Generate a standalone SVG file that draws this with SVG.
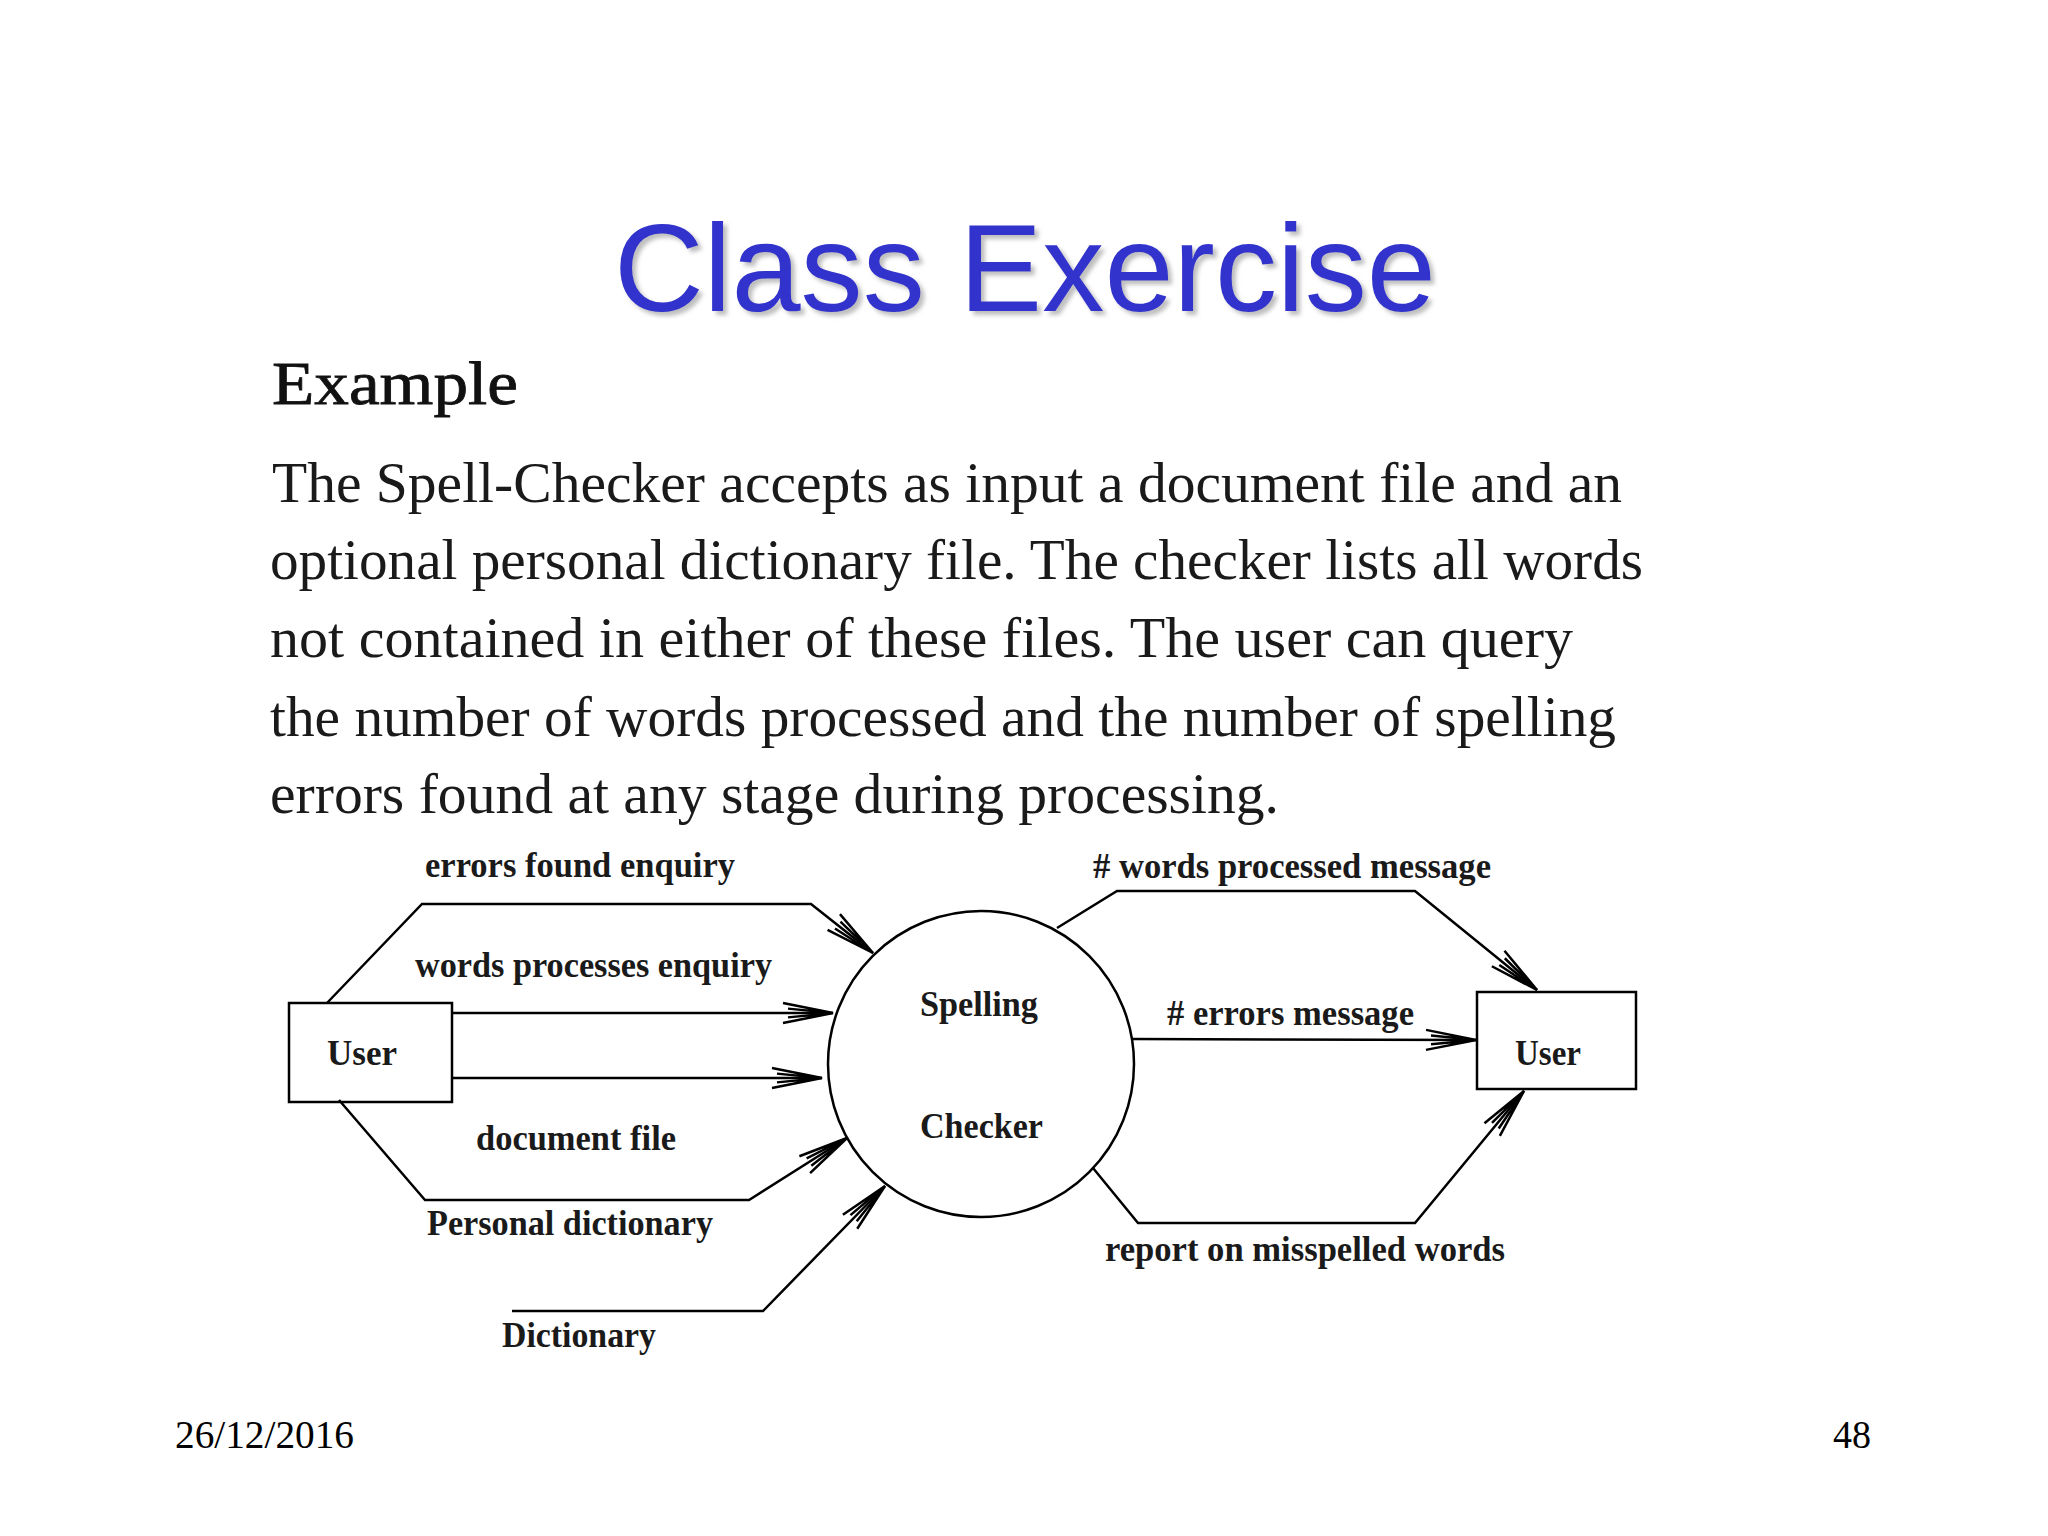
<svg xmlns="http://www.w3.org/2000/svg" width="2048" height="1536" viewBox="0 0 2048 1536">
  <style>
    .title { font-family: "Liberation Sans", Arial, sans-serif; font-size: 125px; fill: #3333CC; }
    .body { font-family: "Liberation Serif", "Times New Roman", serif; font-size: 56px; fill: #1a1a1a; }
    .heading { font-family: "Liberation Serif", "Times New Roman", serif; font-size: 62px; font-weight: normal; fill: #111111; stroke: #111111; stroke-width: 0.8; }
    .lbl { font-family: "Liberation Serif", "Times New Roman", serif; font-size: 35px; font-weight: bold; fill: #1a1a1a; }
    .foot { font-family: "Liberation Serif", "Times New Roman", serif; font-size: 40px; fill: #000; }
    .box { fill: none; stroke: #000; stroke-width: 2.5; }
    .edge { fill: none; stroke: #000; stroke-width: 2.5; stroke-linejoin: miter; }
  </style>
  <defs>
    <marker id="arrow" markerUnits="userSpaceOnUse" markerWidth="60" markerHeight="30" refX="0" refY="0" viewBox="-44 -12 48 24" orient="auto" overflow="visible">
      <path d="M-40,-8 L0,0 L-40,8 M-36,-3.5 L0,0 L-36,3.5" fill="none" stroke="#000" stroke-width="2"/>
    </marker>
    <filter id="shadow" x="-10%" y="-20%" width="120%" height="150%">
      <feDropShadow dx="4" dy="4" stdDeviation="2" flood-color="#888888" flood-opacity="0.55"/>
    </filter>
  </defs>

  <rect x="0" y="0" width="2048" height="1536" fill="#ffffff"/>

  <g id="title">
    <text class="title" x="614" y="311" textLength="822" lengthAdjust="spacingAndGlyphs" filter="url(#shadow)">Class Exercise</text>
  </g>

  <g id="description">
    <text class="heading" x="272" y="404" textLength="246" lengthAdjust="spacingAndGlyphs">Example</text>
    <text class="body" x="272" y="502" textLength="1350" lengthAdjust="spacingAndGlyphs">The Spell-Checker accepts as input a document file and an</text>
    <text class="body" x="270" y="579" textLength="1373" lengthAdjust="spacingAndGlyphs">optional personal dictionary file. The checker lists all words</text>
    <text class="body" x="270" y="657" textLength="1303" lengthAdjust="spacingAndGlyphs">not contained in either of these files. The user can query</text>
    <text class="body" x="270" y="736" textLength="1346" lengthAdjust="spacingAndGlyphs">the number of words processed and the number of spelling</text>
    <text class="body" x="270" y="813" textLength="1009" lengthAdjust="spacingAndGlyphs">errors found at any stage during processing.</text>
  </g>

  <g id="connectors">
    <g id="edge-errors-found-enquiry">
      <polyline class="edge" points="327,1003 422,904 811,904 873,953" marker-end="url(#arrow)"/>
      <text class="lbl" x="425" y="877" textLength="310" lengthAdjust="spacingAndGlyphs">errors found enquiry</text>
    </g>
    <g id="edge-words-processes-enquiry">
      <polyline class="edge" points="452,1013 833,1013" marker-end="url(#arrow)"/>
      <text class="lbl" x="415" y="977" textLength="357" lengthAdjust="spacingAndGlyphs">words processes enquiry</text>
    </g>
    <g id="edge-document-file">
      <polyline class="edge" points="452,1078 822,1078" marker-end="url(#arrow)"/>
      <text class="lbl" x="476" y="1150" textLength="200" lengthAdjust="spacingAndGlyphs">document file</text>
    </g>
    <g id="edge-personal-dictionary">
      <polyline class="edge" points="339,1100 425,1200 749,1200 847,1138" marker-end="url(#arrow)"/>
      <text class="lbl" x="427" y="1235" textLength="286" lengthAdjust="spacingAndGlyphs">Personal dictionary</text>
    </g>
    <g id="edge-dictionary">
      <polyline class="edge" points="512,1311 763,1311 885,1186" marker-end="url(#arrow)"/>
      <text class="lbl" x="502" y="1347" textLength="154" lengthAdjust="spacingAndGlyphs">Dictionary</text>
    </g>
    <g id="edge-words-processed-message">
      <polyline class="edge" points="1057,928 1117,891 1415,891 1537,990" marker-end="url(#arrow)"/>
      <text class="lbl" x="1093" y="878" textLength="398" lengthAdjust="spacingAndGlyphs"># words processed message</text>
    </g>
    <g id="edge-errors-message">
      <polyline class="edge" points="1132,1039 1476,1040" marker-end="url(#arrow)"/>
      <text class="lbl" x="1167" y="1025" textLength="247" lengthAdjust="spacingAndGlyphs"># errors message</text>
    </g>
    <g id="edge-report-misspelled">
      <polyline class="edge" points="1093,1168 1138,1223 1415,1223 1524,1091" marker-end="url(#arrow)"/>
      <text class="lbl" x="1105" y="1261" textLength="400" lengthAdjust="spacingAndGlyphs">report on misspelled words</text>
    </g>
  </g>

  <g id="node-user-left">
    <rect class="box" x="289" y="1003" width="163" height="99"/>
    <text class="lbl" x="327" y="1065" textLength="70" lengthAdjust="spacingAndGlyphs">User</text>
  </g>

  <g id="node-spelling-checker">
    <circle class="box" cx="981" cy="1064" r="153"/>
    <text class="lbl" x="920" y="1016" textLength="118" lengthAdjust="spacingAndGlyphs">Spelling</text>
    <text class="lbl" x="920" y="1138" textLength="123" lengthAdjust="spacingAndGlyphs">Checker</text>
  </g>

  <g id="node-user-right">
    <rect class="box" x="1477" y="992" width="159" height="97"/>
    <text class="lbl" x="1515" y="1065" textLength="66" lengthAdjust="spacingAndGlyphs">User</text>
  </g>

  <g id="footer">
    <text class="foot" x="175" y="1448" textLength="179" lengthAdjust="spacingAndGlyphs">26/12/2016</text>
    <text class="foot" x="1833" y="1448" textLength="38" lengthAdjust="spacingAndGlyphs">48</text>
  </g>
</svg>
